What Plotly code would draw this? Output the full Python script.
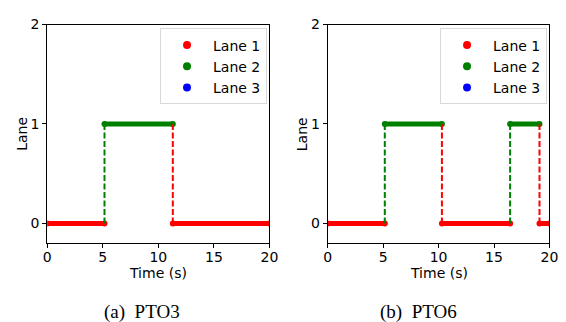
import plotly.graph_objects as go

# ---- data ----
lane_names = ["Lane 1", "Lane 2", "Lane 3"]
lane_colors = ["#ff0000", "#008000", "#0000ff"]

# switch times (segment boundaries) and lane index of each segment
pto3_times = [0, 5.15, 11.3, 20]
pto3_lanes = [0, 1, 0]
pto6_times = [0, 5.15, 10.3, 16.45, 19.1, 20]
pto6_lanes = [0, 1, 0, 1, 0]

captions = ["(a)  PTO3", "(b)  PTO6"]
x_ticks = [0, 5, 10, 15, 20]
y_ticks = [0, 1, 2]

W, H = 566, 322
FS = 14
fig = go.Figure()

panels = [
    dict(times=pto3_times, lanes=pto3_lanes, xa="x", ya="y", legend="legend",
         px=(44.3, 271.7)),
    dict(times=pto6_times, lanes=pto6_lanes, xa="x2", ya="y2", legend="legend2",
         px=(331.3, 558.3)),
]
top_px, bot_px = 17.0, 241.3

for i, p in enumerate(panels):
    t, ln = p["times"], p["lanes"]
    # horizontal segments
    for k, lane in enumerate(ln):
        fig.add_trace(go.Scatter(
            x=[t[k], t[k + 1]], y=[lane, lane], mode="lines+markers",
            line=dict(color=lane_colors[lane], width=5),
            marker=dict(color=lane_colors[lane], size=6),
            xaxis=p["xa"], yaxis=p["ya"], showlegend=False, hoverinfo="skip"))
    # dashed transitions
    for k in range(1, len(ln)):
        fig.add_trace(go.Scatter(
            x=[t[k], t[k]], y=[ln[k - 1], ln[k]], mode="lines",
            line=dict(color=lane_colors[ln[k]], width=2, dash="6px,2.5px"),
            xaxis=p["xa"], yaxis=p["ya"], showlegend=False, hoverinfo="skip"))
    # legend entries
    for j, name in enumerate(lane_names):
        fig.add_trace(go.Scatter(
            x=[None], y=[None], mode="markers", name=name,
            marker=dict(color=lane_colors[j], size=8),
            xaxis=p["xa"], yaxis=p["ya"], legend=p["legend"], showlegend=True))

axis_common = dict(
    showline=True, mirror=True, linecolor="black", linewidth=1,
    ticks="outside", ticklen=4, tickwidth=1, tickcolor="black",
    showgrid=False, zeroline=False,
    tickfont=dict(family="DejaVu Sans", size=FS, color="black"),
)

ydom = [1 - bot_px / H, 1 - top_px / H]
layout = dict(
    width=W, height=H, margin=dict(l=0, r=0, t=0, b=0),
    paper_bgcolor="white", plot_bgcolor="white",
    showlegend=True,
)
for i, p in enumerate(panels):
    sfx = "" if i == 0 else "2"
    xd = [p["px"][0] / W, p["px"][1] / W]
    layout["xaxis" + sfx] = dict(axis_common, range=[0, 20], tickvals=x_ticks,
                                 domain=xd, anchor="y" + sfx, ticklabelstandoff=-3)
    layout["yaxis" + sfx] = dict(axis_common, range=[-0.2, 2], tickvals=y_ticks,
                                 domain=ydom, anchor="x" + sfx)
    layout["legend" + sfx] = dict(
        x=(p["px"][1] - 2.5) / W, y=1 - 21 / H, xanchor="right", yanchor="top",
        xref="paper", yref="paper",
        bgcolor="white", bordercolor="#d9d9d9", borderwidth=1,
        font=dict(family="DejaVu Sans", size=FS, color="black"),
        itemwidth=42, tracegroupgap=0)
fig.update_layout(**layout)

annotations = []
for i, p in enumerate(panels):
    cx = (p["px"][0] + p["px"][1]) / 2
    annotations.append(dict(text="Time (s)", x=cx / W, y=1 - 272 / H,
                            xref="paper", yref="paper", showarrow=False,
                            xanchor="center", yanchor="middle",
                            font=dict(family="DejaVu Sans", size=FS, color="black")))
    annotations.append(dict(text="Lane", x=(p["px"][0] - 26) / W,
                            y=1 - (top_px + bot_px) / 2 / H,
                            xref="paper", yref="paper", showarrow=False, textangle=-90,
                            xanchor="center", yanchor="middle",
                            font=dict(family="DejaVu Sans", size=FS, color="black")))
    annotations.append(dict(text=captions[i], x=(141.5 + 283 * i) / W, y=1 - 312 / H,
                            xref="paper", yref="paper", showarrow=False,
                            xanchor="center", yanchor="middle",
                            font=dict(family="Liberation Serif", size=19, color="black")))
fig.update_layout(annotations=annotations)

fig.write_html(
    "out.html",
    config={"displayModeBar": False},
    post_script="document.body.style.margin='0';document.body.style.overflow='hidden';",
)
